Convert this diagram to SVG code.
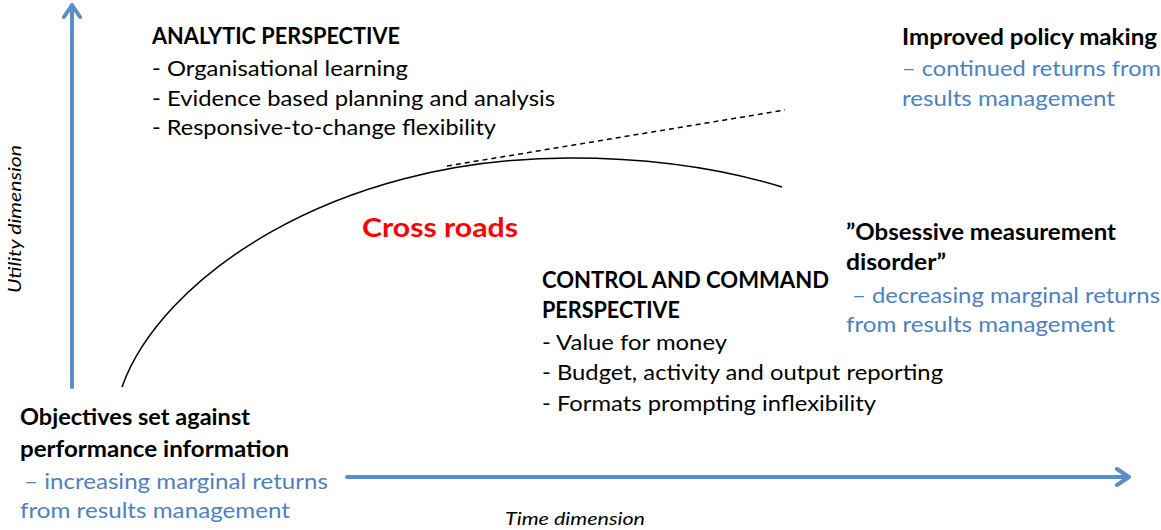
<svg xmlns="http://www.w3.org/2000/svg" width="1161" height="530" viewBox="0 0 1161 530">
<style>
text{font-family:Lato,"Open Sans","Liberation Sans",sans-serif;font-size:22px;fill:#000}
.b{font-weight:bold}
.blue{fill:#4f81bd}
.red{fill:#ff0000;font-weight:bold;font-size:27px}
.it{font-style:italic;font-size:17px}
.axis{stroke:#5b8ec6;stroke-width:4;fill:none;stroke-linecap:round;stroke-linejoin:round}
.curve{stroke:#000;stroke-width:1.5;fill:none}
.dash{stroke:#000;stroke-width:1.5;fill:none;stroke-dasharray:5 4}
</style>
<rect width="1161" height="530" fill="#fff"/>
<g id="connectors">
<path class="axis" d="M72,387 V6 M64,17 L72,5 L80,17"/>
<path class="axis" d="M347,477 H1128 M1117,469 L1129,477 L1117,485"/>
<path class="curve" d="M122,387 C160,280 330,158 570,158 C650,158 720,168 782,187"/>
<path class="dash" d="M447,166 L785,110"/>
</g>
<g id="analytic">
<text class="b" x="152" y="44" textLength="248" lengthAdjust="spacingAndGlyphs">ANALYTIC PERSPECTIVE</text>
<text x="152" y="76" textLength="256" lengthAdjust="spacingAndGlyphs">- Organisational learning</text>
<text x="152" y="106" textLength="403" lengthAdjust="spacingAndGlyphs">- Evidence based planning and analysis</text>
<text x="152" y="135" textLength="344" lengthAdjust="spacingAndGlyphs">- Responsive-to-change flexibility</text>
</g>
<g id="improved">
<text class="b" x="902" y="45" textLength="255" lengthAdjust="spacingAndGlyphs">Improved policy making</text>
<text class="blue" x="902" y="76" textLength="259" lengthAdjust="spacingAndGlyphs">– continued returns from</text>
<text class="blue" x="902" y="106" textLength="213" lengthAdjust="spacingAndGlyphs">results management</text>
</g>
<g id="crossroads">
<text class="red" x="362" y="237" textLength="156" lengthAdjust="spacingAndGlyphs">Cross roads</text>
</g>
<g id="obsessive">
<text class="b" x="846" y="240" textLength="270" lengthAdjust="spacingAndGlyphs">”Obsessive measurement</text>
<text class="b" x="846" y="270" textLength="100" lengthAdjust="spacingAndGlyphs">disorder”</text>
<text class="blue" x="852" y="303" textLength="308" lengthAdjust="spacingAndGlyphs">– decreasing marginal returns</text>
<text class="blue" x="846" y="332" textLength="269" lengthAdjust="spacingAndGlyphs">from results management</text>
</g>
<g id="control">
<text class="b" x="542" y="288" textLength="287" lengthAdjust="spacingAndGlyphs">CONTROL AND COMMAND</text>
<text class="b" x="542" y="318" textLength="138" lengthAdjust="spacingAndGlyphs">PERSPECTIVE</text>
<text x="542" y="350" textLength="185" lengthAdjust="spacingAndGlyphs">- Value for money</text>
<text x="542" y="380" textLength="401" lengthAdjust="spacingAndGlyphs">- Budget, activity and output reporting</text>
<text x="542" y="411" textLength="334" lengthAdjust="spacingAndGlyphs">- Formats prompting inflexibility</text>
</g>
<g id="objectives">
<text class="b" x="20" y="425" textLength="230" lengthAdjust="spacingAndGlyphs">Objectives set against</text>
<text class="b" x="20" y="457" textLength="269" lengthAdjust="spacingAndGlyphs">performance information</text>
<text class="blue" x="24" y="489" textLength="304" lengthAdjust="spacingAndGlyphs">– increasing marginal returns</text>
<text class="blue" x="20" y="518" textLength="270" lengthAdjust="spacingAndGlyphs">from results management</text>
</g>
<g id="utility">
<text class="it" transform="translate(21,293) rotate(-90)" textLength="148" lengthAdjust="spacingAndGlyphs">Utility dimension</text>
</g>
<g id="time">
<text class="it" x="505" y="525" textLength="140" lengthAdjust="spacingAndGlyphs">Time dimension</text>
</g>
</svg>
